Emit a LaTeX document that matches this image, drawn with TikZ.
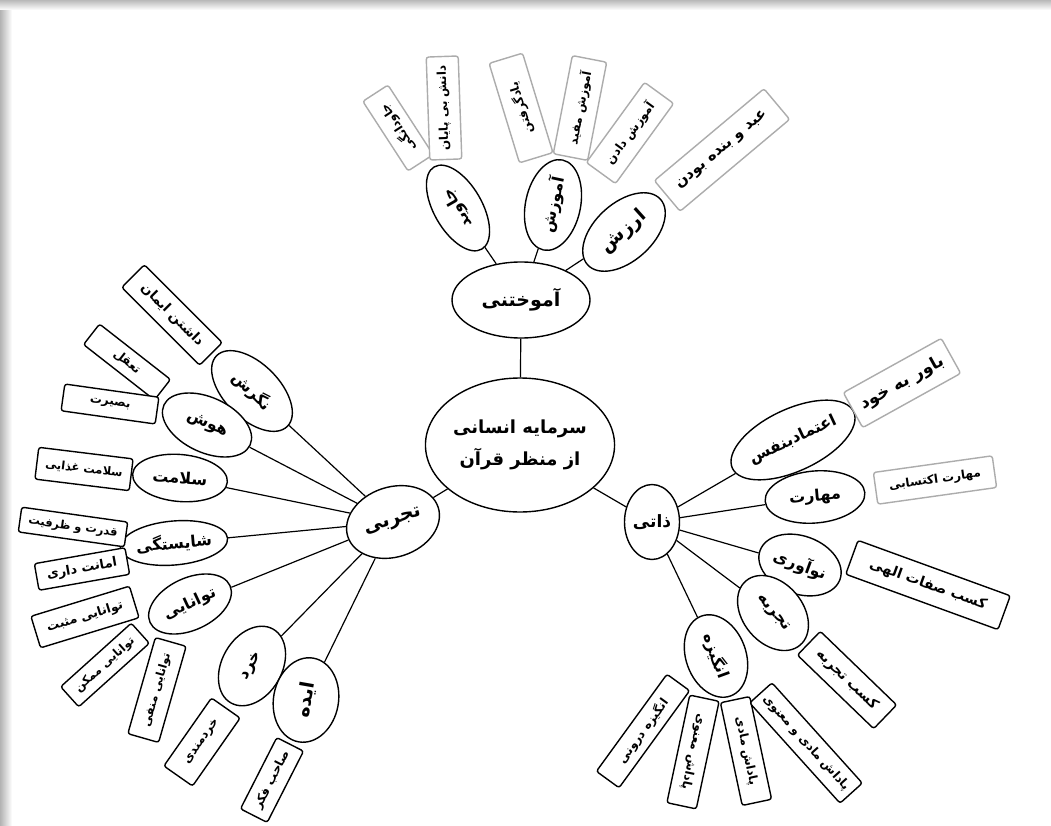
\documentclass[tikz,border=0pt]{standalone}
\usepackage{fontspec}
\usetikzlibrary{shapes.geometric}
\TeXXeTstate=1
\newfontfamily\arabicfont[Script=Arabic]{DejaVu Sans Bold}
\newcommand\fa[1]{{\arabicfont\beginR #1\endR}}
\begin{document}
\begin{tikzpicture}[x=1pt,y=-1pt,
  el/.style={ellipse, draw, line width=1.4pt, inner sep=0pt, fill=white, font=\fontsize{16}{18}\selectfont},
  bx/.style={draw, line width=1.4pt, rounded corners=2.5pt, inner sep=0pt, fill=white, font=\fontsize{12}{14}\selectfont},
  gbx/.style={bx, draw=gray!65},
  ln/.style={line width=1.2pt}]
\useasboundingbox (0,0) rectangle (1051,826);
\fill[white] (0,0) rectangle (1051,826);
\shade[left color=gray!60, right color=white] (0,0) rectangle (12,826);
\shade[top color=gray!55, bottom color=white] (0,0) rectangle (1051,10);

% centre
\node[el, minimum width=186, minimum height=134, font=\fontsize{18}{30}\selectfont, align=center] (c) at (520,445) {\fa{سرمایه انسانی}\\[2pt]\fa{از منظر قرآن}};
\node[el, minimum width=138, minimum height=76, font=\fontsize{19}{21}\selectfont] (am) at (521,300) {\fa{آموختنی}};
\node[el, minimum width=55, minimum height=75, font=\fontsize{17}{19}\selectfont] (zati) at (652,522) {\fa{ذاتی}};
\node[el, minimum width=95, minimum height=70, rotate=18, font=\fontsize{19}{21}\selectfont] (tj) at (393,522) {\fa{تجربی}};

% top
\node[el, minimum width=95, minimum height=48, rotate=120] (javid) at (458,208) {\fa{جاوید}};
\node[el, minimum width=92, minimum height=55, rotate=78] (amuzesh) at (553,205) {\fa{آموزش}};
\node[el, minimum width=98, minimum height=58, rotate=42, font=\fontsize{19}{21}\selectfont] (arzesh) at (624,232) {\fa{ارزش}};

\node[gbx, minimum width=83, minimum height=30, rotate=123] (b1) at (398,128) {\fa{جاودانگی}};
\node[gbx, minimum width=103, minimum height=32, rotate=92] (b2) at (444,108) {\fa{دانش بی پایان}};
\node[gbx, minimum width=104, minimum height=35, rotate=107] (b3) at (521,108) {\fa{یادگرفتن}};
\node[gbx, minimum width=100, minimum height=35, rotate=79] (b4) at (580,108) {\fa{آموزش مفید}};
\node[gbx, minimum width=99, minimum height=36, rotate=54] (b5) at (630,133) {\fa{آموزش دادن}};
\node[gbx, minimum width=143, minimum height=40, rotate=40, font=\fontsize{15}{17}\selectfont] (b6) at (722,150) {\fa{عبد و بنده بودن}};

% right
\node[el, minimum width=128, minimum height=62, rotate=25] (etemad) at (793,440) {\fa{اعتمادبنفس}};
\node[el, minimum width=100, minimum height=52, rotate=5] (maharat) at (815,497) {\fa{مهارت}};
\node[el, minimum width=85, minimum height=58, rotate=-20] (noavari) at (800,565) {\fa{نوآوری}};
\node[el, minimum width=84, minimum height=60, rotate=-50] (tajrobe) at (773,613) {\fa{تجربه}};
\node[el, minimum width=85, minimum height=60, rotate=-70] (angize) at (716,656) {\fa{انگیزه}};

\node[gbx, minimum width=112, minimum height=40, rotate=29, font=\fontsize{17}{19}\selectfont] (r1) at (902,383) {\fa{باور به خود}};
\node[gbx, minimum width=120, minimum height=32, rotate=8] (r2) at (935,480) {\fa{مهارت اکتسابی}};
\node[bx, minimum width=162, minimum height=36, rotate=-20, font=\fontsize{14}{16}\selectfont] (r3) at (928,585) {\fa{کسب صفات الهی}};
\node[bx, minimum width=106, minimum height=33, rotate=-44, font=\fontsize{14}{16}\selectfont] (r4) at (847,680) {\fa{کسب تجربه}};
\node[bx, minimum width=120, minimum height=28, rotate=54] (r5) at (643,731) {\fa{انگیزه درونی}};
\node[bx, minimum width=110, minimum height=30, rotate=-102] (r6) at (693,752) {\fa{پاداش معنوی}};
\node[bx, minimum width=105, minimum height=30, rotate=-78] (r7) at (746,751) {\fa{پاداش مادی}};
\node[bx, minimum width=135, minimum height=30, rotate=-48] (r8) at (806,743) {\fa{پاداش مادی و معنوی}};

% left
\node[el, minimum width=100, minimum height=55, rotate=-45] (negaresh) at (252,391) {\fa{نگرش}};
\node[el, minimum width=95, minimum height=55, rotate=-25] (housh) at (207,425) {\fa{هوش}};
\node[el, minimum width=95, minimum height=47, rotate=-5] (salamat) at (180,478) {\fa{سلامت}};
\node[el, minimum width=92, minimum height=44, rotate=5] (shayest) at (174,543) {\fa{شایستگی}};
\node[el, minimum width=88, minimum height=52, rotate=25] (tavanai) at (190,604) {\fa{توانایی}};
\node[el, minimum width=85, minimum height=60, rotate=60] (kherad) at (252,666) {\fa{خرد}};
\node[el, minimum width=85, minimum height=65, rotate=80, font=\fontsize{19}{21}\selectfont] (ide) at (306,700) {\fa{ایده}};

\node[bx, minimum width=110, minimum height=32, rotate=-45, font=\fontsize{13.5}{16}\selectfont] (l1) at (172,315) {\fa{داشتن ایمان}};
\node[bx, minimum width=90, minimum height=26, rotate=-38] (l2) at (127,362) {\fa{تعقل}};
\node[bx, minimum width=95, minimum height=27, rotate=-8] (l3) at (110,404) {\fa{بصیرت}};
\node[bx, minimum width=95, minimum height=32, rotate=-7, font=\fontsize{11.5}{14}\selectfont] (l4) at (84,469) {\fa{سلامت غذایی}};
\node[bx, minimum width=107, minimum height=25, rotate=-8, font=\fontsize{11.5}{14}\selectfont] (l5) at (73,527) {\fa{قدرت و ظرفیت}};
\node[bx, minimum width=92, minimum height=27, rotate=10, font=\fontsize{13}{15}\selectfont] (l6) at (82,569) {\fa{امانت داری}};
\node[bx, minimum width=103, minimum height=33, rotate=17, font=\fontsize{12.5}{15}\selectfont] (l7) at (85,617) {\fa{توانایی مثبت}};
\node[bx, minimum width=95, minimum height=27, rotate=42, font=\fontsize{11.5}{14}\selectfont] (l8) at (105,665) {\fa{توانایی ممکن}};
\node[bx, minimum width=100, minimum height=32, rotate=74, font=\fontsize{11.5}{14}\selectfont] (l9) at (157,690) {\fa{توانایی منفی}};
\node[bx, minimum width=83, minimum height=35, rotate=55] (l10) at (202,742) {\fa{خردمندی}};
\node[bx, minimum width=80, minimum height=30, rotate=63] (l11) at (272,780) {\fa{صاحب فکر}};

% connectors
\draw[ln] (c) -- (am);
\draw[ln] (c) -- (zati);
\draw[ln] (c) -- (tj);
\foreach \n in {javid,amuzesh,arzesh} \draw[ln] (am) -- (\n);
\foreach \n in {etemad,maharat,noavari,tajrobe,angize} \draw[ln] (zati) -- (\n);
\foreach \n in {negaresh,housh,salamat,shayest,tavanai,kherad,ide} \draw[ln] (tj) -- (\n);
\end{tikzpicture}
\end{document}
